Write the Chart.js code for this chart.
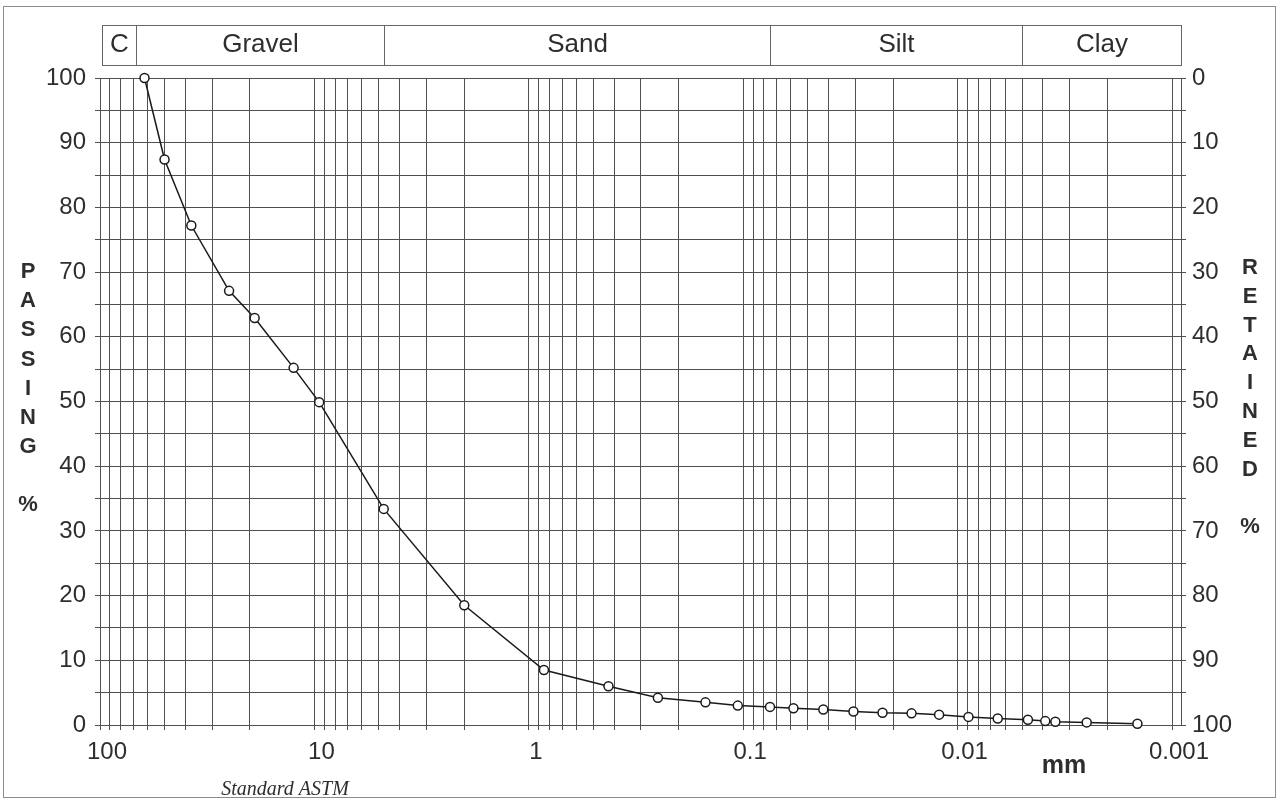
<!DOCTYPE html>
<html>
<head>
<meta charset="utf-8">
<title>Grain size distribution</title>
<script src="https://cdn.jsdelivr.net/npm/chart.js@4.4.1/dist/chart.umd.min.js"></script>
<style>
  html, body { margin:0; padding:0; background:#fff; }
  #wrap { position:relative; width:1277px; height:802px; }
</style>
</head>
<body>
<div id="wrap"><canvas id="grading"></canvas></div>
<script>
/* Grading curve – percent passing vs particle size (ASTM sheet) */

// particle sizes (mm) and percent passing
const sizes = [62, 50, 37.5, 25, 19, 12.5, 9.5, 4.75, 2.0, 0.85, 0.425, 0.25, 0.15, 0.106, 0.075,
  0.0583, 0.0423, 0.0306, 0.0224, 0.0164, 0.0122, 0.0089, 0.0065, 0.0047, 0.0039, 0.0035, 0.0025, 0.00145];
const passing = [100, 87.4, 77.2, 67.1, 62.9, 55.2, 49.9, 33.4, 18.5, 8.5, 6.0, 4.2, 3.5, 3.0, 2.8,
  2.6, 2.4, 2.1, 1.9, 1.8, 1.6, 1.25, 1.0, 0.8, 0.6, 0.5, 0.4, 0.2];

// vertical grid of the log paper
const gridSizes = [100, 90, 80, 70, 60, 50, 40, 30, 20,
  10, 9, 8, 7, 6, 5, 4, 3, 2,
  1, 0.9, 0.8, 0.7, 0.6, 0.5, 0.4, 0.3, 0.2,
  0.1, 0.09, 0.08, 0.07, 0.06, 0.05, 0.04, 0.03, 0.02,
  0.01, 0.009, 0.008, 0.007, 0.006, 0.005, 0.004, 0.003, 0.002, 0.001];
const sizeLabels = [100, 10, 1, 0.1, 0.01, 0.001];
const sizeMin = 0.000908, sizeMax = 100;

// soil classes band on top
const bandEdges = [98, 68, 4.75, 0.075, 0.005, 0.000908];
const bandNames = ['C', 'Gravel', 'Sand', 'Silt', 'Clay'];

const TXT = '#2e2e2e';
const GRID = '#505050';
const SANS = '"Liberation Sans", Arial, sans-serif';

const sheetPlugin = {
  id: 'sheet',
  beforeDraw(chart) {
    const ctx = chart.ctx;
    ctx.save();
    ctx.fillStyle = '#fff';
    ctx.fillRect(0, 0, chart.width, chart.height);
    ctx.restore();
  },
  afterDraw(chart) {
    const { ctx, scales: { x } } = chart;
    ctx.save();

    // outer frame
    ctx.strokeStyle = '#8c8c8c';
    ctx.lineWidth = 1;
    ctx.strokeRect(3.5, 6.5, 1272, 791);

    // class band
    const top = 25.5, bot = 65.5;
    const px = bandEdges.map(v => Math.round(x.getPixelForValue(v)) + 0.5);
    ctx.strokeStyle = '#666';
    ctx.strokeRect(px[0], top, px[px.length - 1] - px[0], bot - top);
    ctx.beginPath();
    for (let i = 1; i < px.length - 1; i++) {
      ctx.moveTo(px[i], top);
      ctx.lineTo(px[i], bot);
    }
    ctx.stroke();
    ctx.fillStyle = TXT;
    ctx.font = '26px ' + SANS;
    ctx.textAlign = 'center';
    ctx.textBaseline = 'middle';
    bandNames.forEach((n, i) => ctx.fillText(n, (px[i] + px[i + 1]) / 2, 45));

    // stacked axis titles
    ctx.font = 'bold 22px ' + SANS;
    'PASSING'.split('').forEach((c, i) => ctx.fillText(c, 28, 272 + i * 29.2));
    ctx.fillText('%', 28, 505);
    'RETAINED'.split('').forEach((c, i) => ctx.fillText(c, 1250, 268 + i * 28.8));
    ctx.fillText('%', 1250, 527);

    ctx.font = 'bold 25px ' + SANS;
    ctx.fillText('mm', 1064, 766);

    ctx.font = 'italic 20px "Liberation Serif", "Times New Roman", serif';
    ctx.fillText('Standard ASTM', 285, 790);
    ctx.restore();
  }
};

new Chart(document.getElementById('grading'), {
  type: 'line',
  data: {
    datasets: [{
      data: sizes.map((s, i) => ({ x: s, y: passing[i] })),
      borderColor: '#1a1a1a',
      borderWidth: 1.5,
      tension: 0,
      clip: false,
      pointRadius: 4.5,
      pointBorderWidth: 1.5,
      pointBackgroundColor: '#fff',
      pointBorderColor: '#1a1a1a'
    }]
  },
  options: {
    responsive: true,
    maintainAspectRatio: false,
    animation: false,
    layout: { padding: { top: 78, left: 0, right: 0, bottom: 0 } },
    plugins: { legend: { display: false }, tooltip: { enabled: false } },
    scales: {
      x: {
        type: 'logarithmic',
        reverse: true,
        min: sizeMin,
        max: sizeMax,
        afterBuildTicks: s => { s.ticks = gridSizes.map(v => ({ value: v })); },
        afterFit: s => { s.height = 77; },
        grid: { color: GRID, lineWidth: 1, tickLength: 5 },
        border: { display: true, color: GRID },
        ticks: {
          autoSkip: false,
          maxRotation: 0,
          labelOffset: 7,
          padding: 8,
          color: TXT,
          font: { family: SANS, size: 24 },
          callback: v => sizeLabels.includes(v) ? String(v) : ''
        }
      },
      y: {
        position: 'left',
        min: 0,
        max: 100,
        afterFit: s => { s.width = 100; },
        grid: { color: GRID, lineWidth: 1, tickLength: 5 },
        border: { display: true, color: GRID },
        ticks: {
          stepSize: 5,
          padding: 9,
          color: TXT,
          font: { family: SANS, size: 24 },
          callback: v => v % 10 === 0 ? v : ''
        }
      },
      y2: {
        position: 'right',
        min: 0,
        max: 100,
        reverse: true,
        afterFit: s => { s.width = 96; },
        grid: { drawOnChartArea: false, color: GRID, lineWidth: 1, tickLength: 5 },
        border: { display: true, color: GRID },
        ticks: {
          stepSize: 5,
          padding: 6,
          color: TXT,
          font: { family: SANS, size: 24 },
          callback: v => v % 10 === 0 ? v : ''
        }
      }
    }
  },
  plugins: [sheetPlugin]
});
</script>
</body>
</html>
